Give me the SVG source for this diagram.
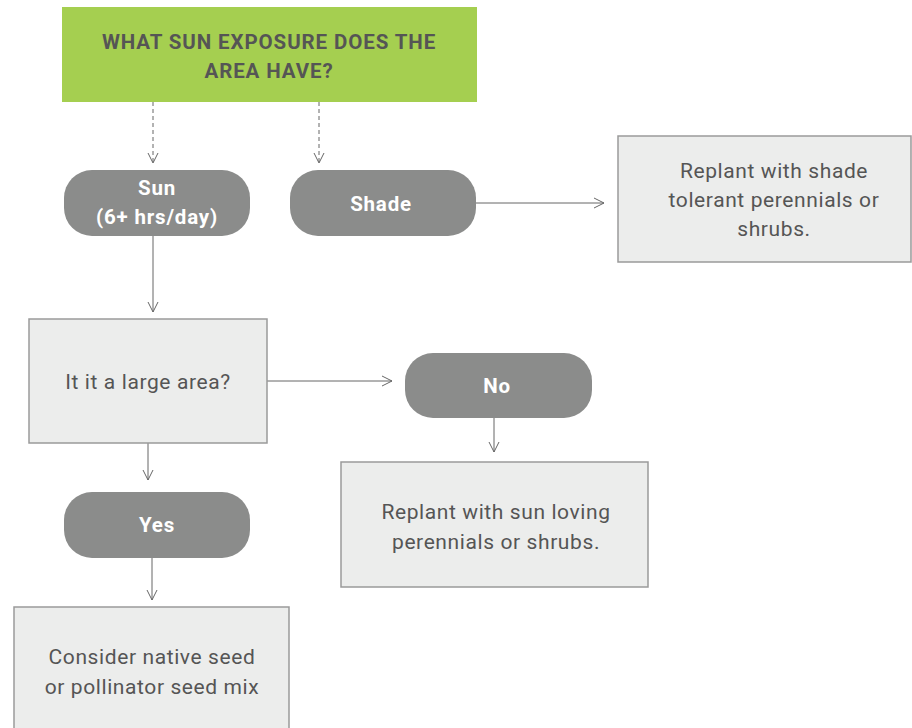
<svg xmlns="http://www.w3.org/2000/svg" width="912" height="728" viewBox="0 0 912 728">
<style>
.pill{fill:#8b8c8b}
.box{fill:#ecedec;stroke:#9a9a9a;stroke-width:1.5}
.pt{font-family:Roboto,"Liberation Sans",sans-serif;font-weight:bold;font-size:20.5px;fill:#ffffff;text-anchor:middle;letter-spacing:0.8px}
.bt{font-family:Roboto,"Liberation Sans",sans-serif;font-size:21px;fill:#555555;text-anchor:middle;letter-spacing:0.6px}
.tt{font-family:Roboto,"Liberation Sans",sans-serif;font-weight:bold;font-size:20.5px;fill:#555555;text-anchor:middle;letter-spacing:0.9px}
.c{stroke:#666;stroke-width:1;fill:none}
.d{stroke-dasharray:4 3}
</style>
<defs>
<marker id="ah" viewBox="0 0 12 12" refX="11" refY="6" markerWidth="12" markerHeight="12" markerUnits="userSpaceOnUse" orient="auto">
<path d="M1,1 L11,6 L1,11" fill="none" stroke="#666" stroke-width="1"/>
</marker>
</defs>
<rect width="912" height="728" fill="#ffffff"/>
<g id="connectors">
<line class="c d" x1="153" y1="102" x2="153" y2="163" marker-end="url(#ah)"/>
<line class="c d" x1="319" y1="102" x2="319" y2="163" marker-end="url(#ah)"/>
<line class="c" x1="476" y1="203" x2="604" y2="203" marker-end="url(#ah)"/>
<line class="c" x1="153" y1="236" x2="153" y2="312" marker-end="url(#ah)"/>
<line class="c" x1="267" y1="381" x2="392" y2="381" marker-end="url(#ah)"/>
<line class="c" x1="494" y1="418" x2="494" y2="452" marker-end="url(#ah)"/>
<line class="c" x1="148" y1="443" x2="148" y2="480" marker-end="url(#ah)"/>
<line class="c" x1="152" y1="558" x2="152" y2="600" marker-end="url(#ah)"/>
</g>
<g id="title">
<rect x="62" y="7" width="415" height="95" fill="#a5cf50"/>
<text class="tt" x="269" y="49">WHAT SUN EXPOSURE DOES THE</text>
<text class="tt" x="269" y="78">AREA HAVE?</text>
</g>
<g id="sun">
<rect class="pill" x="64" y="170" width="186" height="66" rx="28"/>
<text class="pt" x="157" y="195">Sun</text>
<text class="pt" x="157" y="224">(6+ hrs/day)</text>
</g>
<g id="shade">
<rect class="pill" x="290" y="170" width="186" height="66" rx="28"/>
<text class="pt" x="381" y="211">Shade</text>
</g>
<g id="shade-result">
<rect class="box" x="618" y="136" width="293" height="126"/>
<text class="bt" x="774" y="178">Replant with shade</text>
<text class="bt" x="774" y="207">tolerant perennials or</text>
<text class="bt" x="774" y="236">shrubs.</text>
</g>
<g id="large-area">
<rect class="box" x="29" y="319" width="238" height="124"/>
<text class="bt" x="148" y="389">It it a large area?</text>
</g>
<g id="no">
<rect class="pill" x="405" y="353" width="187" height="65" rx="28"/>
<text class="pt" x="497" y="393">No</text>
</g>
<g id="no-result">
<rect class="box" x="341" y="462" width="307" height="125"/>
<text class="bt" x="496" y="519">Replant with sun loving</text>
<text class="bt" x="496" y="549">perennials or shrubs.</text>
</g>
<g id="yes">
<rect class="pill" x="64" y="492" width="186" height="66" rx="28"/>
<text class="pt" x="157" y="532">Yes</text>
</g>
<g id="yes-result">
<rect class="box" x="14" y="607" width="275" height="130"/>
<text class="bt" x="152" y="664">Consider native seed</text>
<text class="bt" x="152" y="694">or pollinator seed mix</text>
</g>
</svg>
